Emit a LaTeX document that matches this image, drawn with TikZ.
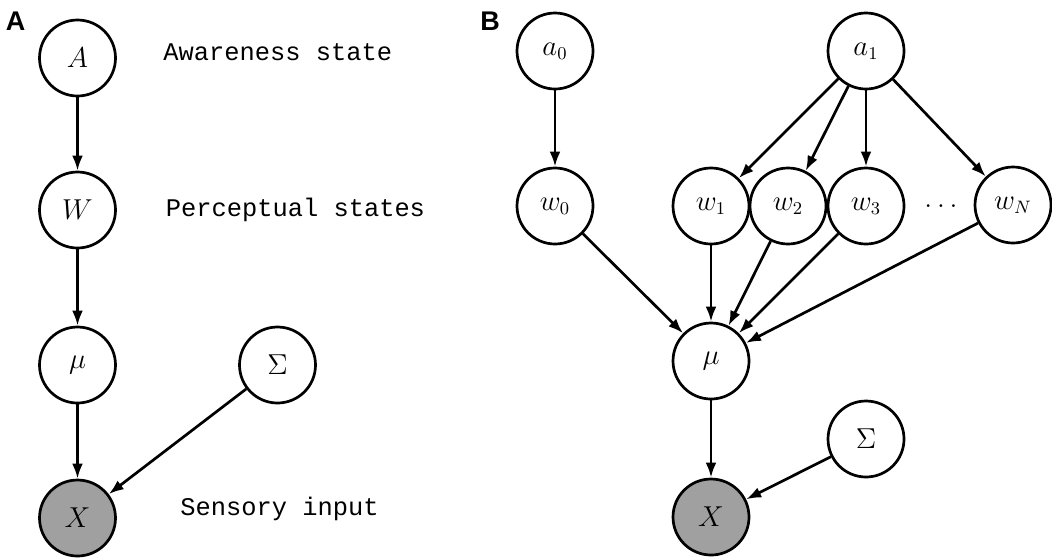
\documentclass[tikz,border=0pt]{standalone}
\usepackage{fontspec}
\setmonofont{Liberation Mono}
\setsansfont{Liberation Sans}
\usetikzlibrary{arrows.meta}
\definecolor{obsgray}{RGB}{160,160,160}
\begin{document}
\begin{tikzpicture}[x=0.5pt,y=-0.5pt,
  var/.style={circle,draw,line width=1.35pt,minimum size=38pt,inner sep=0pt,fill=white,font=\fontsize{13.5}{16}\selectfont},
  obs/.style={var,fill=obsgray},
  arr/.style={-{Latex[length=7.5pt,width=5.4pt]},line width=1.35pt},
  lbl/.style={font=\ttfamily\fontsize{12.7}{14}\selectfont,anchor=base west,inner sep=0pt},
  panel/.style={font=\sffamily\bfseries\fontsize{13.5}{16}\selectfont,inner sep=0pt}]
\useasboundingbox (0,0) rectangle (1052,558);
% panel labels
\node[panel] (pA) at (15.5,21) {A};
\node[panel] (pB) at (490,21.7) {B};
% panel A
\node[var] (nA) at (77.5,58) {$A$};
\node[var] (nW) at (77.5,210) {$W$};
\node[var] (nmu) at (77.5,365) {$\mu$};
\node[var] (nSig) at (277.5,365) {$\Sigma$};
\node[obs] (nX) at (77.5,518) {$X$};
\node[lbl] (tA) at (163,60) {Awareness state};
\node[lbl] (tW) at (165.5,216) {Perceptual states};
\node[lbl] (tX) at (180,515) {Sensory input};
\draw[arr] (nA) -- (nW);
\draw[arr] (nW) -- (nmu);
\draw[arr] (nmu) -- (nX);
\draw[arr] (nSig) -- (nX);
% panel B
\node[var] (a0) at (555,51) {$a_0$};
\node[var] (a1) at (866,51) {$a_1$};
\node[var] (w0) at (555,206) {$w_0$};
\node[var] (w1) at (711,206) {$w_1$};
\node[var] (w2) at (788,206) {$w_2$};
\node[var] (w3) at (866,206) {$w_3$};
\node[inner sep=0pt,font=\fontsize{13.5}{16}\selectfont] (dots) at (941,206) {$\ldots$};
\node[var] (wN) at (1013,205) {$w_N$};
\node[var] (mu2) at (711,361) {$\mu$};
\node[var] (Sig2) at (866,439) {$\Sigma$};
\node[obs] (X2) at (711,517) {$X$};
\draw[arr] (a0) -- (w0);
\draw[arr] (a1) -- (w1);
\draw[arr] (a1) -- (w2);
\draw[arr] (a1) -- (w3);
\draw[arr] (a1) -- (wN);
\draw[arr] (w0) -- (mu2);
\draw[arr] (w1) -- (mu2);
\draw[arr] (w2) -- (mu2);
\draw[arr] (w3) -- (mu2);
\draw[arr] (wN) -- (mu2);
\draw[arr] (mu2) -- (X2);
\draw[arr] (Sig2) -- (X2);
\end{tikzpicture}
\end{document}
